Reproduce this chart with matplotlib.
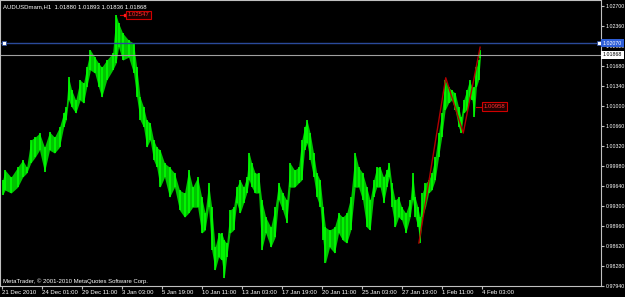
import matplotlib
matplotlib.use("Agg")
import matplotlib.pyplot as plt
import numpy as np

# hourly AUDUSD in blocks of a few bars (bar index = hour bars from 21 Dec 2010)
seg_end = [2, 8, 21, 29, 37, 42, 50, 56, 64, 72,
           80, 88, 96, 101, 104, 109, 114, 122, 128, 133,
           138, 145, 152, 157, 162, 173, 181, 184, 189, 197,
           208, 213, 218, 224, 229, 234, 240, 245, 250, 256,
           264, 272, 280, 288, 296, 301, 309, 317, 322, 328,
           333, 338, 344, 349, 354, 357, 362, 368, 373, 378,
           384, 389, 394, 397, 402, 408, 413, 418, 426, 434,
           440, 445, 453, 458, 464, 472, 477, 482, 486, 490,
           496, 501, 506, 512, 515, 520, 528, 536, 541, 549,
           554, 562, 568, 573, 581, 586, 592, 597, 602, 608,
           613, 618, 621, 626, 632, 637, 642, 650, 656, 658,
           664, 667, 670, 675, 680, 685, 690, 696, 701, 706,
           712, 717, 722, 728, 733, 736, 741, 746, 750, 754,
           757, 761, 764, 767]

seg_high = [0.9974, 0.9991, 0.9979, 0.9996, 1.0008, 0.9996, 1.0042, 1.0047, 1.0054, 1.0030,
            1.0056, 1.0047, 1.0064, 1.0088, 1.0098, 1.0149, 1.0127, 1.0110, 1.0144, 1.0139,
            1.0166, 1.0195, 1.0183, 1.0173, 1.0166, 1.0178, 1.0190, 1.0255, 1.0241, 1.0224,
            1.0212, 1.0207, 1.0166, 1.0115, 1.0098, 1.0076, 1.0071, 1.0042, 1.0030, 1.0025,
            1.0003, 0.9996, 0.9986, 0.9957, 0.9952, 0.9991, 0.9962, 0.9979, 0.9945, 0.9918,
            0.9969, 0.9928, 0.9860, 0.9884, 0.9884, 0.9872, 0.9867, 0.9923, 0.9928, 0.9962,
            0.9974, 0.9962, 0.9979, 1.0020, 1.0003, 0.9986, 0.9986, 0.9940, 0.9911, 0.9894,
            0.9928, 0.9969, 0.9952, 0.9940, 1.0003, 0.9991, 0.9996, 1.0042, 1.0064, 1.0076,
            1.0054, 1.0020, 0.9986, 0.9974, 0.9928, 0.9894, 0.9889, 0.9894, 0.9918, 0.9911,
            0.9918, 0.9945, 1.0020, 0.9996, 0.9986, 0.9962, 0.9940, 0.9974, 0.9996, 0.9996,
            0.9979, 0.9991, 1.0003, 0.9969, 0.9940, 0.9945, 0.9928, 0.9918, 0.9940, 0.9986,
            0.9945, 0.9928, 0.9911, 0.9952, 0.9969, 0.9974, 0.9986, 1.0013, 1.0054, 1.0088,
            1.0144, 1.0132, 1.0127, 1.0122, 1.0098, 1.0081, 1.0110, 1.0127, 1.0144, 1.0132,
            1.0132, 1.0166, 1.0178, 1.0195]

seg_low = [0.9949, 0.9957, 0.9952, 0.9962, 0.9979, 0.9986, 1.0003, 1.0013, 1.0025, 0.9988,
           1.0025, 1.0020, 1.0030, 1.0064, 1.0076, 1.0110, 1.0098, 1.0088, 1.0110, 1.0105,
           1.0132, 1.0161, 1.0156, 1.0132, 1.0115, 1.0144, 1.0161, 1.0173, 1.0200, 1.0178,
           1.0183, 1.0156, 1.0115, 1.0076, 1.0064, 1.0030, 1.0042, 1.0008, 0.9996, 0.9962,
           0.9979, 0.9945, 0.9962, 0.9923, 0.9911, 0.9918, 0.9928, 0.9928, 0.9884, 0.9889,
           0.9928, 0.9855, 0.9821, 0.9843, 0.9838, 0.9807, 0.9843, 0.9884, 0.9889, 0.9935,
           0.9918, 0.9935, 0.9952, 0.9974, 0.9962, 0.9952, 0.9952, 0.9855, 0.9884, 0.9860,
           0.9877, 0.9940, 0.9923, 0.9901, 0.9962, 0.9962, 0.9969, 0.9974, 1.0025, 1.0037,
           1.0008, 0.9979, 0.9945, 0.9928, 0.9872, 0.9833, 0.9860, 0.9850, 0.9884, 0.9872,
           0.9867, 0.9889, 0.9962, 0.9962, 0.9940, 0.9894, 0.9889, 0.9945, 0.9962, 0.9962,
           0.9935, 0.9962, 0.9979, 0.9928, 0.9894, 0.9911, 0.9906, 0.9884, 0.9911, 0.9940,
           0.9911, 0.9894, 0.9867, 0.9911, 0.9928, 0.9952, 0.9957, 0.9974, 1.0013, 1.0047,
           1.0093, 1.0105, 1.0110, 1.0093, 1.0064, 1.0054, 1.0088, 1.0093, 1.0115, 1.0110,
           1.0081, 1.0132, 1.0144, 1.0182]

# zigzag indicator
zz_bar = [667, 710, 738, 765]
zz_price = [0.9867, 1.0148, 1.0054, 1.0200]

x_tick_bars = [0, 64, 128, 192, 256, 320, 384, 448, 512, 576, 640, 704, 768]
x_tick_labels = ["21 Dec 2010", "24 Dec 01:00", "29 Dec 11:00", "3 Jan 03:00",
                 "5 Jan 19:00", "10 Jan 11:00", "13 Jan 03:00", "17 Jan 19:00",
                 "20 Jan 11:00", "25 Jan 03:00", "27 Jan 19:00", "1 Feb 11:00",
                 "4 Feb 03:00"]
y_ticks = [1.0270, 1.0236, 1.0202, 1.0168, 1.0134, 1.0100, 1.0066, 1.0032,
           0.9998, 0.9964, 0.9930, 0.9896, 0.9862, 0.9828, 0.9794]

header = "AUDUSDmam,H1  1.01880 1.01893 1.01836 1.01868"
blue_level = 1.02070
last_price = 1.01868
high_label = 1.02547
low_label = 1.00958

FONT = "Liberation Sans"
FS = 4.3
FS_AX = 3.8
GRAY = "#c0c0c0"
GREEN = "#00ff00"

fig = plt.figure(figsize=(6.25, 2.97), dpi=100, facecolor="black")
ax = fig.add_axes([0, 11 / 297, 601 / 625, 286 / 297], facecolor="black")

seg_end = np.array(seg_end, dtype=float)
starts = np.r_[0, seg_end[:-1]]
mid = (starts + seg_end) / 2
hi = np.array(seg_high)
lo = np.array(seg_low)
# price band (a bit darker) plus a bright bar per block for the spiky bar look
ax.fill_between(mid, lo, hi, color="#00c400", lw=0)
ax.vlines(mid, lo, hi, color=GREEN, lw=1.2)

ax.plot(zz_bar, zz_price, color="#b00000", lw=1)

ax.set_xlim(-3.2, 958.4)
ax.set_ylim(0.97940, 1.02802)

# price lines
ax.axhline(blue_level, color="#2a4a9a", lw=1)
ax.plot([0.006, 0.997], [blue_level] * 2, ls="none", marker="s", ms=2.5,
        mfc="white", mec="#2a4a9a", mew=0.6, transform=ax.get_yaxis_transform(), clip_on=False)
ax.axhline(last_price, color="#a0a0a0", lw=0.8)

# ticks
ax.set_xticks(x_tick_bars)
ax.set_xticklabels(x_tick_labels, ha="left", fontfamily=FONT, fontsize=FS)
ax.yaxis.tick_right()
ax.set_yticks(y_ticks)
ax.set_yticklabels(["%.5f" % v for v in y_ticks], fontfamily=FONT, fontsize=FS_AX)
ax.tick_params(axis="both", direction="out", length=2.5, width=0.8, color=GRAY,
               labelcolor="white", pad=0.6)
for s in ax.spines.values():
    s.set_color(GRAY)
    s.set_linewidth(0.8)

# right-axis markers
ax.text(1.003, blue_level, "1.02070", transform=ax.get_yaxis_transform(), va="center",
        ha="left", fontsize=FS_AX, fontfamily=FONT, color="white", clip_on=False, zorder=5,
        bbox=dict(boxstyle="square,pad=0.3", facecolor="#2f5fd8", edgecolor="none"))
ax.text(1.003, last_price, "1.01868", transform=ax.get_yaxis_transform(), va="center",
        ha="left", fontsize=FS_AX, fontfamily=FONT, color="black", clip_on=False, zorder=5,
        bbox=dict(boxstyle="square,pad=0.3", facecolor="white", edgecolor="none"))

# high / low labels
ax.plot([189, 197], [high_label] * 2, color="#d00000", lw=0.8)
ax.plot([197], [high_label], marker="s", ms=2, color="#ff2020")
ax.text(201, high_label, "%.5f" % high_label, va="center", ha="left", fontsize=FS,
        fontfamily=FONT, color="#ff3030",
        bbox=dict(boxstyle="square,pad=0.3", facecolor="#200000", edgecolor="#d00000", lw=0.8))
ax.plot([758, 768], [1.0099] * 2, color="#d00000", lw=0.8)
ax.text(771, 1.0099, "%.5f" % low_label, va="center", ha="left", fontsize=FS,
        fontfamily=FONT, color="#ff3030",
        bbox=dict(boxstyle="square,pad=0.3", facecolor="#200000", edgecolor="#d00000", lw=0.8))

ax.text(0.005, 0.975, header, transform=ax.transAxes, va="center", ha="left",
        fontsize=FS, fontfamily=FONT, color="white")
ax.text(0.005, 0.016, "MetaTrader, \u00a9 2001-2010 MetaQuotes Software Corp.",
        transform=ax.transAxes, va="center", ha="left", fontsize=FS, fontfamily=FONT,
        color="white")

fig.savefig("out.png", dpi=100, facecolor="black")
